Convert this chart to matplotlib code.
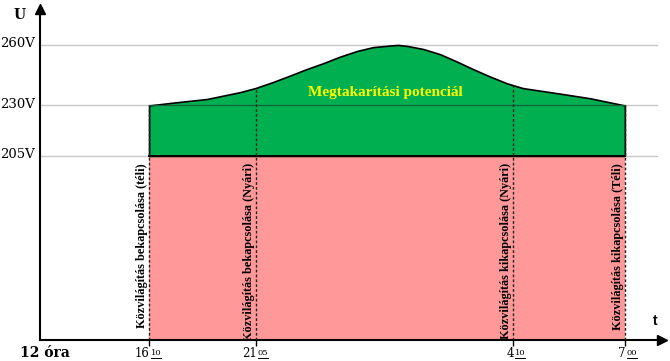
import numpy as np
import matplotlib
matplotlib.use("Agg")
import matplotlib.pyplot as plt
import matplotlib.transforms as mtransforms

# switching times (hours after 12:00) and their labels
event_hours = [4 + 10/60, 9 + 5/60, 16 + 10/60, 19.0]
event_main = ["16", "21", "4", "7"]
event_minutes = ["10", "05", "10", "00"]
event_labels = [
    "Közvilágítás bekapcsolása (téli)",
    "Közvilágítás bekapcsolása (Nyári)",
    "Közvilágítás kikapcsolása (Nyári)",
    "Közvilágítás kikapcsolása (Téli)",
]

# voltage levels
levels = [205, 230, 260]
level_labels = ["205V", "230V", "260V"]

# supply voltage during the night
curve_hours = [4.17, 5.27, 6.83, 8.35, 9.05, 9.55, 10.02, 10.49, 10.93, 11.40,
               11.87, 12.31, 12.78, 13.0, 13.25, 13.69, 14.16, 14.63, 15.07,
               15.54, 16.0, 16.42, 17.28, 18.11, 19.0]
curve_volts = [230.0, 231.4, 233.2, 236.6, 238.6, 241.6, 244.8, 248.1, 250.9,
               254.2, 257.0, 258.9, 259.7, 260.0, 259.5, 258.0, 255.4, 251.7,
               248.0, 244.3, 241.0, 238.6, 236.1, 233.6, 230.0]

# the time axis of the sketch is not linear: map hours to sketch position
scale_hours = [0, 4 + 10/60, 9 + 5/60, 16 + 10/60, 19.0, 21.0]
scale_pos = [40, 149, 256, 513, 625, 704]


def fwd(h):
    return np.interp(h, scale_hours, scale_pos)


def inv(p):
    return np.interp(p, scale_pos, scale_hours)


fig = plt.figure(figsize=(6.7, 3.61), dpi=100)
ax = fig.add_axes([40/670, 21/361, 622/670, 331/361])
ax.set_xscale("function", functions=(fwd, inv))
ax.set_xlim(0, 19.94)
ax.set_ylim(113.8, 277.8)

serif = "DejaVu Serif"

# grid lines
grid_end = 19.81
for v in levels:
    ax.plot([0, grid_end], [v, v], color="#c8c8c8", lw=1, zorder=0)

# pink base area
ax.fill_between([event_hours[0], event_hours[-1]], 113.8, 205,
                color="#ff9999", lw=0, zorder=1)

# green savings area
ax.fill_between(curve_hours, 205, curve_volts, facecolor="#00b050",
                edgecolor="black", lw=1.2, zorder=2)
ax.plot([event_hours[0], event_hours[-1]], [230, 230], color="#17603a",
        lw=0.9, zorder=3)
ax.plot([event_hours[0], event_hours[-1]], [205, 205], color="black",
        lw=1.4, zorder=3)

ax.text(12.64, 236.2, "Megtakarítási potenciál", color="#ffff00",
        fontsize=11, fontweight="bold", family="Liberation Serif",
        ha="center", va="center", zorder=4)

# dashed switching lines and their labels
top_v = np.interp(event_hours, curve_hours, curve_volts)
for h, tv, lab in zip(event_hours, top_v, event_labels):
    ax.plot([h, h], [113.8, tv], color="#222222", lw=1,
            ls=(0, (2, 1.5)), zorder=3)
    tr = mtransforms.offset_copy(ax.transData, fig, x=-7, y=-7, units="dots")
    ax.text(h, 205, lab, transform=tr, rotation=90, ha="center", va="top",
            fontsize=8.8, fontweight="bold", family="Liberation Serif",
            clip_on=True, zorder=4)

# axes with arrows
for s in ["top", "right"]:
    ax.spines[s].set_visible(False)
for s in ["left", "bottom"]:
    ax.spines[s].set_linewidth(1.5)
ax.plot(1, 0, ">k", ms=7, transform=ax.transAxes, clip_on=False)
ax.plot(0, 1, "^k", ms=7, transform=ax.transAxes, clip_on=False)

ax.set_yticks([])
ax.set_xticks(event_hours)
ax.set_xticklabels([])
ax.tick_params(axis="x", direction="out", length=4, width=1, color="black")

# voltage labels
for v, lab in zip(levels, level_labels):
    ax.annotate(lab, xy=(0, v), xycoords=("axes fraction", "data"),
                xytext=(-5, 1), textcoords="offset pixels", ha="right",
                va="center", fontsize=9.5, family=serif)

# time labels with underlined superscript minutes
xtr = ax.get_xaxis_transform()
ul_tr = (mtransforms.blended_transform_factory(mtransforms.IdentityTransform(),
                                               ax.transAxes)
         + mtransforms.ScaledTranslation(0, -0.175, fig.dpi_scale_trans))
for h, m, mm in zip(event_hours, event_main, event_minutes):
    ax.annotate(m, xy=(h, 0), xycoords=xtr, xytext=(1, -17),
                textcoords="offset pixels", ha="right", va="baseline",
                fontsize=8.5, family=serif, annotation_clip=False)
    ax.annotate(mm, xy=(h, 0), xycoords=xtr, xytext=(2, -15),
                textcoords="offset pixels", ha="left", va="baseline",
                fontsize=6, family=serif, annotation_clip=False)
    ax.add_line(plt.Line2D([fwd(h) + 2, fwd(h) + 12], [0, 0], lw=0.7,
                           color="black", transform=ul_tr, clip_on=False))

ax.annotate("12 óra", xy=(0, 0), xycoords="axes fraction", xytext=(5, -17),
            textcoords="offset pixels", ha="center", va="baseline",
            fontsize=10, fontweight="bold", family=serif,
            annotation_clip=False)
ax.annotate("U", xy=(0, 1), xycoords="axes fraction", xytext=(-20, -6),
            textcoords="offset pixels", ha="center", va="center", fontsize=10,
            fontweight="bold", family=serif, annotation_clip=False)
ax.annotate("t", xy=(1, 0), xycoords="axes fraction", xytext=(-7, 19),
            textcoords="offset pixels", ha="center", va="center", fontsize=10,
            fontweight="bold", family="Liberation Sans", annotation_clip=False)

fig.savefig("out.png", dpi=100)
